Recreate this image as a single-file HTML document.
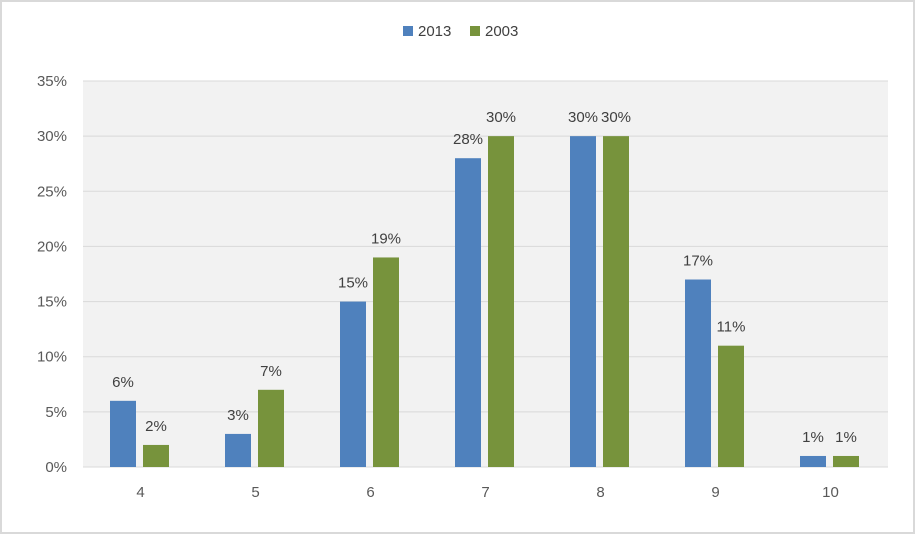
<!DOCTYPE html>
<html><head><meta charset="utf-8"><style>
html,body{margin:0;padding:0;background:#fff;}
svg{display:block;font-family:"Liberation Sans",sans-serif;}
</style></head><body>
<svg id="chart" width="916" height="535" viewBox="0 0 916 535" xmlns="http://www.w3.org/2000/svg">
<rect x="1" y="1" width="913" height="532" fill="#fff" stroke="#d9d9d9" stroke-width="2"/>
<rect x="83" y="81" width="805" height="386" fill="#f2f2f2"/>
<g id="grid"></g><g id="bars"></g><g id="labels"></g>
<g>
<rect x="403" y="26" width="10" height="10" fill="#4f81bd"/>
<text x="418" y="36" font-size="15" fill="#404040">2013</text>
<rect x="470" y="26" width="10" height="10" fill="#77933c"/>
<text x="485" y="36" font-size="15" fill="#404040">2003</text>
</g>
</svg>
<script>
const categories=["4","5","6","7","8","9","10"];
const series2013=[6,3,15,28,30,17,1];
const series2003=[2,7,19,30,30,11,1];
const yTicks=[0,5,10,15,20,25,30,35];
const NS="http://www.w3.org/2000/svg";
const x0=83,x1=888,y0=467,y1=81,yMax=35;
const bw=(x1-x0)/categories.length;
const y=v=>y0-(v/yMax)*(y0-y1);
const xc=i=>x0+bw*(i+0.5);
function mk(t,a,p){const e=document.createElementNS(NS,t);for(const k in a)e.setAttribute(k,a[k]);p.appendChild(e);return e;}
const g=document.getElementById('grid'),b=document.getElementById('bars'),l=document.getElementById('labels');
yTicks.forEach(t=>{
 const ln=mk('line',{x1:x0,x2:x1,y1:y(t),y2:y(t),stroke:'#d9d9d9','stroke-width':1},g);
 
 
 const tx=mk('text',{x:67,y:y(t)+5,'font-size':15,fill:'#595959','text-anchor':'end'},g);
 tx.textContent=t+'%';
 
 
});
categories.forEach((c,i)=>{
 const tx=mk('text',{x:xc(i),y:497,'font-size':15,fill:'#595959','text-anchor':'middle'},l);
 tx.textContent=c;
 
 
 [[series2013,'#4f81bd',-17.5,'2013'],[series2003,'#77933c',15.5,'2003']].forEach(([s,col,off,nm])=>{
  const v=s[i],cx=xc(i)+off;
  const r=mk('rect',{x:cx-13,y:y(v),width:26,height:y0-y(v),fill:col},b);
  
  
  const vt=mk('text',{x:cx,y:y(v)-14,'font-size':15,fill:'#404040','text-anchor':'middle'},l);
  vt.textContent=v+'%';
  
  
 });
});
</script>
</body></html>
